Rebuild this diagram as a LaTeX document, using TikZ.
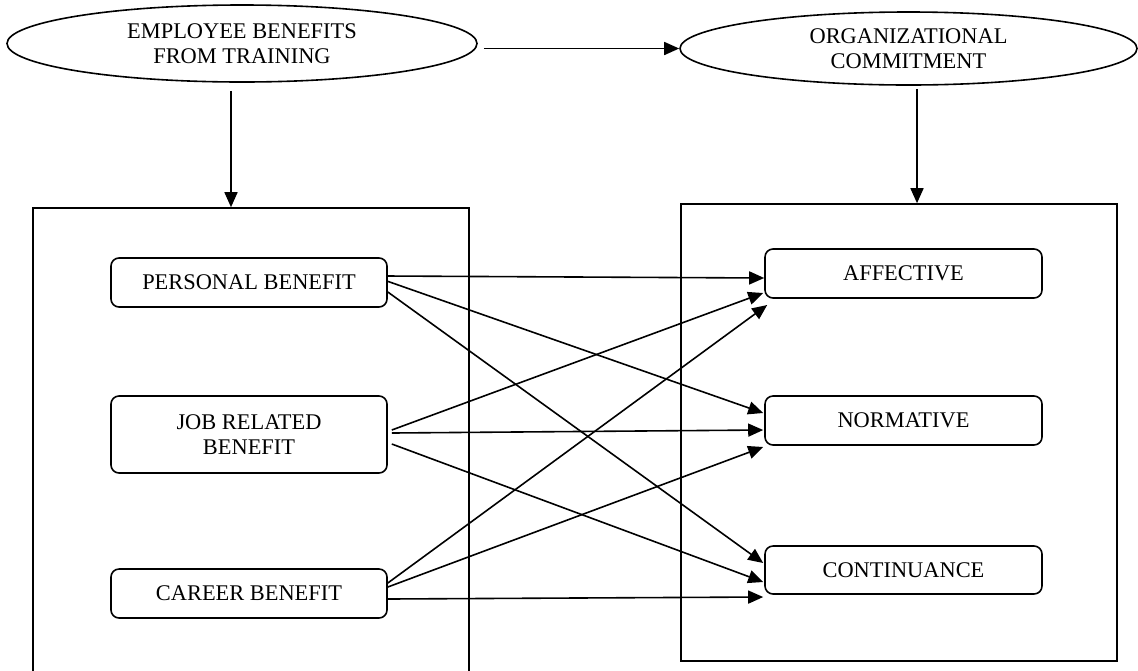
\documentclass[tikz,border=0pt]{standalone}
\usepackage{fontspec}
\setmainfont{Liberation Serif}
\usetikzlibrary{shapes.geometric,arrows.meta,calc}
\tikzset{
  lbl/.style={font=\fontsize{11.2}{12.5}\selectfont, align=center},
  oval/.style={ellipse, draw, line width=0.8pt, inner sep=0pt, lbl},
  outerbox/.style={rectangle, draw, line width=0.8pt, inner sep=0pt},
  ibox/.style={rectangle, rounded corners=4pt, draw, line width=0.8pt, inner sep=0pt, minimum width=138pt, lbl},
  arr/.style={line width=0.8pt, -{Triangle[length=7.5pt,width=6.5pt]}},
}
\begin{document}
\begin{tikzpicture}[x=0.5pt,y=-0.5pt]
\useasboundingbox (0,0) rectangle (1138,670);
% ellipses
\node[oval, minimum width=235pt, minimum height=38.5pt] (e1) at (242,43.5) {EMPLOYEE BENEFITS\\FROM TRAINING};
\node[oval, minimum width=228.5pt, minimum height=36.5pt] (e2) at (908.5,48.5) {ORGANIZATIONAL\\COMMITMENT};
% outer boxes
\begin{scope}
\clip (0,0) rectangle (1138,670);
\node[outerbox, minimum width=218pt, minimum height=246pt] (LB) at (251,454) {};
\end{scope}
\node[outerbox, minimum width=218pt, minimum height=228.5pt] (RB) at (899,432.5) {};
% inner boxes left
\node[ibox, minimum height=24.5pt] (pb) at (249,282.5) {PERSONAL BENEFIT};
\node[ibox, minimum height=38.5pt] (jb) at (249,434.5) {JOB RELATED\\BENEFIT};
\node[ibox, minimum height=24.5pt] (cb) at (249,593.5) {CAREER BENEFIT};
% inner boxes right
\node[ibox, minimum width=138.5pt, minimum height=24.5pt] (af) at (903.5,273.5) {AFFECTIVE};
\node[ibox, minimum width=138.5pt, minimum height=24.5pt] (nm) at (903.5,420.5) {NORMATIVE};
\node[ibox, minimum width=138.5pt, minimum height=24pt] (ct) at (903.5,570) {CONTINUANCE};
% top connectors
\coordinate (a1) at ($(LB.north)+(-20,0)$);
\coordinate (a2) at ($(RB.north)+(18,0)$);
\draw[arr] ($(e1.south -| a1)+(0,8)$) -- (a1);
\draw[arr] ($(e2.south -| a2)+(0,3)$) -- (a2);
\draw[arr] ($(e1.east |- e2.west)+(6,0)$) -- (e2.west);
% cross connectors
\draw[arr] ($(pb.east)+(-1,-6.5)$) -- ($(af.west)+(0,4.5)$);
\draw[arr] ($(pb.east)+(-1,-1.5)$) -- ($(nm.west)+(-1,-7.5)$);
\draw[arr] ($(pb.east)+(0,9.5)$) -- ($(ct.west)+(-1,-7)$);
\draw[arr] ($(jb.east)+(4,-4.5)$) -- ($(af.west)+(-1,19.5)$);
\draw[arr] ($(jb.east)+(4,-1.5)$) -- ($(nm.west)+(-1,9.5)$);
\draw[arr] ($(jb.east)+(4,9.5)$) -- ($(ct.west)+(-1,12)$);
\draw[arr] ($(cb.east)+(0,-10.5)$) -- ($(af.west)+(3,31.5)$);
\draw[arr] ($(cb.east)+(0,-6.5)$) -- ($(nm.west)+(-1,26.5)$);
\draw[arr] ($(cb.east)+(0,5.5)$) -- ($(ct.west)+(-1,27)$);
\end{tikzpicture}
\end{document}
